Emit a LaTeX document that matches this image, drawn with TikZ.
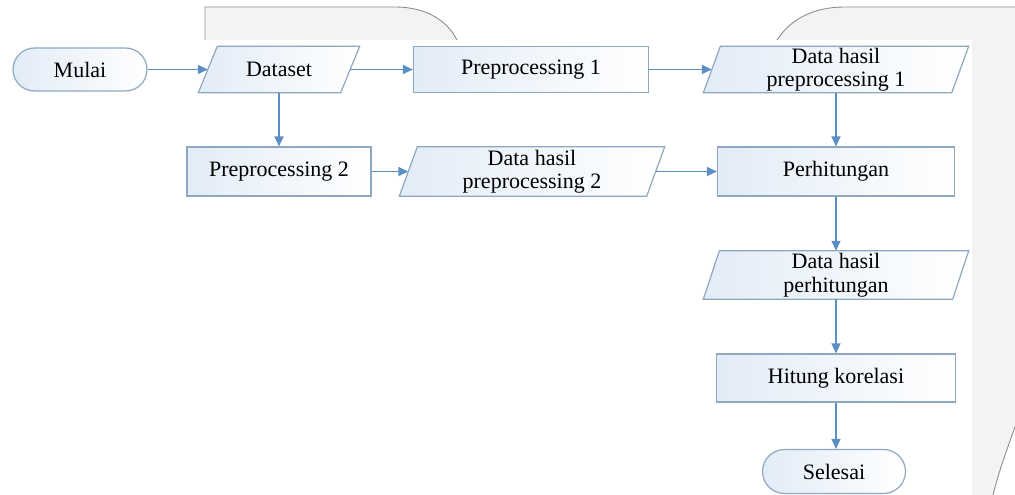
\documentclass[tikz,border=0pt]{standalone}
\usepackage{fontspec}
\setmainfont{Liberation Serif}
\usetikzlibrary{arrows.meta,shapes.misc}
\definecolor{edgec}{HTML}{8FA8BF}
\definecolor{arrc}{HTML}{5B8EC2}
\definecolor{fillc}{HTML}{E2ECF7}
\definecolor{bgg}{HTML}{F3F3F3}
\definecolor{bgl}{HTML}{8E8E8E}
\pgfdeclarelayer{back}
\pgfdeclarelayer{bg}
\pgfsetlayers{back,bg,main}
\tikzset{
  txt/.style={font=\fontsize{22}{23.5}\selectfont, align=center, inner sep=0pt, text=black},
  procbox/.style={txt, draw=edgec, line width=1.2pt, left color=fillc, right color=white, minimum height=48pt},
  termbox/.style={txt, draw=edgec, line width=1.2pt, left color=fillc, right color=white, rounded rectangle, minimum height=43pt},
  iobox/.style={txt, minimum height=46pt},
  ioshape/.style={draw=edgec, line width=1.2pt, left color=fillc, right color=white},
  flow/.style={draw=arrc, line width=1.4pt, -{Triangle[length=10pt,width=9pt]}},
  bgedge/.style={draw=bgl, line width=0.9pt}
}
\begin{document}
\begin{tikzpicture}[x=1pt,y=-1pt]
\useasboundingbox (0,0) rectangle (1015,495);
\begin{pgfonlayer}{back}
\fill[white] (0,0) rectangle (1015,495);
% background artifacts
\fill[bgg] (205,40) -- (205,7) -- (395,7) .. controls (428,7) and (448,22) .. (457,40) -- cycle;
\draw[bgedge] (205,40) -- (205,7) -- (395,7) .. controls (428,7) and (448,22) .. (457,40);
\fill[bgg] (777,40) .. controls (790,20) and (812,7) .. (845,7) -- (1015,7) -- (1015,40) -- cycle;
\draw[bgedge] (777,40) .. controls (790,20) and (812,7) .. (845,7) -- (1015,7);
\fill[bgg] (972,40) -- (1015,40) -- (1015,427) .. controls (1006,452) and (998,474) .. (993,495) -- (972,495) -- cycle;
\draw[bgedge] (1015,427) .. controls (1006,452) and (998,474) .. (993,495);
\fill[white] (0,40) rectangle (972,495);
\end{pgfonlayer}

% nodes
\node[termbox, minimum width=134pt] (m) at (80,69.5) {Mulai};
\node[iobox, minimum width=142pt] (ds) at (279,69.5) {Dataset};
\node[procbox, minimum width=235pt, minimum height=46pt] (p1) at (531,69.5) {Preprocessing 1};
\node[iobox, minimum width=248pt] (d1) at (836,69.5) {Data hasil\\preprocessing 1};
\node[procbox, minimum width=184pt, minimum height=49pt] (p2) at (279,171.5) {Preprocessing 2};
\node[iobox, minimum width=247pt, minimum height=49pt] (d2) at (532,171.5) {Data hasil\\preprocessing 2};
\node[procbox, minimum width=237pt, minimum height=49pt] (pc) at (836,171.5) {Perhitungan};
\node[iobox, minimum width=249pt, minimum height=48pt] (d3) at (836,275) {Data hasil\\perhitungan};
\node[procbox, minimum width=239pt] (hk) at (836,378) {Hitung korelasi};
\node[termbox, minimum width=143pt, minimum height=44pt] (sl) at (834,471.5) {Selesai};

\begin{pgfonlayer}{bg}
\foreach \n/\s in {ds/9.5,d1/8.5,d2/9,d3/8} {
  \path[ioshape] ([xshift=\s pt]\n.north west) -- ([xshift=\s pt]\n.north east)
     -- ([xshift=-\s pt]\n.south east) -- ([xshift=-\s pt]\n.south west) -- cycle;
}
\end{pgfonlayer}

% connectors
\draw[flow] (m.east) -- (ds.west);
\draw[flow] (ds.east) -- (p1.west);
\draw[flow] (p1.east) -- (d1.west);
\draw[flow] (ds.south) -- (p2.north);
\draw[flow] (p2.east) -- (d2.west);
\draw[flow] (d2.east) -- (pc.west);
\draw[flow] (d1.south) -- (pc.north);
\draw[flow] (pc.south) -- (d3.north);
\draw[flow] (d3.south) -- (hk.north);
\draw[flow] (hk.south) -- (hk.south |- sl.north);
\end{tikzpicture}
\end{document}
